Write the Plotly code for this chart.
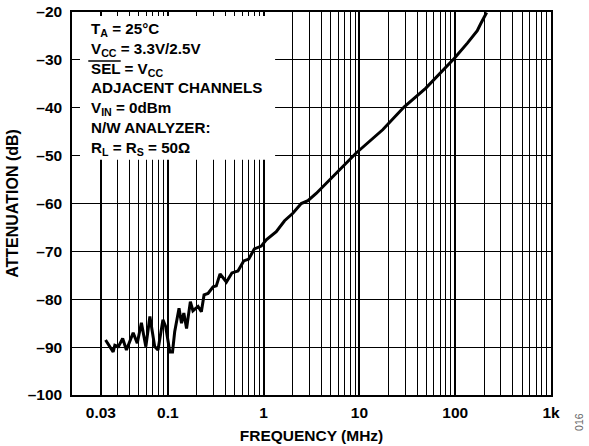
import plotly.graph_objects as go

freq_mhz = [0.0224, 0.0269, 0.028, 0.0305, 0.0338, 0.037, 0.0435, 0.048, 0.053, 0.059,
            0.065, 0.073, 0.079, 0.089, 0.095, 0.105, 0.112, 0.118, 0.131, 0.139,
            0.147, 0.157, 0.172, 0.183, 0.207, 0.224, 0.239, 0.263, 0.297, 0.321,
            0.351, 0.409, 0.467, 0.52, 0.54, 0.62, 0.70, 0.80, 0.946, 1.066,
            1.356, 1.655, 2.02, 2.47, 2.9, 3.54, 4.87, 7.87, 9.2, 17.5,
            29.4, 49.4, 80, 97.6, 134, 170, 184, 213]
atten_db = [-88.5, -91.0, -89.6, -89.9, -88.2, -90.6, -87.0, -89.2, -84.9, -89.9,
            -83.6, -89.9, -90.6, -84.3, -85.7, -91.0, -91.0, -86.8, -81.9, -85.0,
            -82.9, -86.1, -80.5, -82.4, -81.5, -82.6, -79.1, -78.8, -77.4, -77.2,
            -74.7, -76.4, -74.5, -74.1, -74.1, -72.0, -71.6, -69.5, -68.9, -67.6,
            -65.9, -63.6, -62.05, -60.0, -59.4, -57.9, -55.1, -50.8, -49.5, -44.6,
            -39.8, -35.9, -31.4, -29.7, -26.5, -23.9, -22.5, -20.1]

x_tick_vals = [0.02, 0.1, 1, 10, 100, 1000]
x_tick_text = ["0.03", "0.1", "1", "10", "100", "1k"]
x_minor_vals = [m * 10 ** e for e in range(-2, 3) for m in range(2, 10)]
y_tick_vals = [-100, -90, -80, -70, -60, -50, -40, -30, -20]
y_tick_text = ["\u2013" + str(-v) for v in y_tick_vals]

FONT = "Liberation Sans, Arial, sans-serif"

fig = go.Figure()
fig.add_trace(go.Scatter(x=freq_mhz, y=atten_db, mode="lines",
                         line=dict(color="black", width=3), showlegend=False))

fig.update_layout(
    width=589, height=446,
    margin=dict(l=72, r=38, t=12, b=51),
    paper_bgcolor="white", plot_bgcolor="white",
    font=dict(family=FONT, size=15.5, color="black", weight="bold"),
    xaxis=dict(type="log", range=[-2, 3], tickvals=x_tick_vals, ticktext=x_tick_text,
               showgrid=True, gridcolor="black", gridwidth=1.8,
               showline=True, linecolor="black", linewidth=1.5, mirror=True,
               ticks="", zeroline=False, automargin=False, ticklabelstandoff=3,
               minor=dict(tickvals=x_minor_vals, showgrid=True, gridcolor="black", gridwidth=1.1, ticks=""),
               title=dict(text="FREQUENCY (MHz)", standoff=10, font=dict(size=15.5))),
    yaxis=dict(range=[-100, -20], tickvals=y_tick_vals, ticktext=y_tick_text,
               showgrid=True, gridcolor="black", gridwidth=1.3,
               showline=True, linecolor="black", linewidth=1.5, mirror=True,
               ticks="", zeroline=False, automargin=False, ticklabelstandoff=5,
               title=dict(text="ATTENUATION (dB)", standoff=5, font=dict(size=16))),
)

# white panel behind the condition text (hides the grid there)
fig.add_shape(type="rect", xref="x domain", yref="y domain", layer="above",
              x0=0.0167, x1=0.424, y0=0.614, y1=0.9896,
              fillcolor="white", line=dict(width=0))
# overline over "SEL"
fig.add_shape(type="line", xref="x domain", yref="y domain", layer="above",
              x0=0.034, x1=0.1017, y0=0.872, y1=0.872,
              line=dict(color="black", width=1.5))

note = ("T<sub>A</sub> = 25°C<br>"
        "V<sub>CC</sub> = 3.3V/2.5V<br>"
        "SEL = V<sub>CC</sub><br>"
        "ADJACENT CHANNELS<br>"
        "V<sub>IN</sub> = 0dBm<br>"
        "N/W ANALYZER:<br>"
        "R<sub>L</sub> = R<sub>S</sub> = 50Ω")
fig.add_annotation(xref="x domain", yref="y domain", x=0.037, y=0.981,
                   xanchor="left", yanchor="top", align="left", showarrow=False,
                   text=note, borderpad=0,
                   font=dict(family=FONT, size=15.2, color="black", weight="bold"))
fig.add_annotation(xref="paper", yref="paper", x=1.0765, y=-0.10, showarrow=False,
                   text="016", textangle=-90,
                   font=dict(family=FONT, size=10.5, color="#666666", weight="normal"))

fig.write_html("out.html", config={"displayModeBar": False},
               post_script="document.body.style.margin='0';")
